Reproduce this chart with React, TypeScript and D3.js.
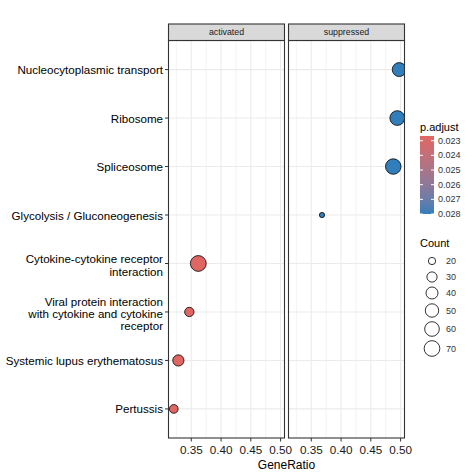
import React from "react";
import * as d3 from "d3";

const categories = [
  "Nucleocytoplasmic transport",
  "Ribosome",
  "Spliceosome",
  "Glycolysis / Gluconeogenesis",
  "Cytokine-cytokine receptor interaction",
  "Viral protein interaction with cytokine and cytokine receptor",
  "Systemic lupus erythematosus",
  "Pertussis",
];
const categoryLines: string[][] = [
  ["Nucleocytoplasmic transport"],
  ["Ribosome"],
  ["Spliceosome"],
  ["Glycolysis / Gluconeogenesis"],
  ["Cytokine-cytokine receptor", "interaction"],
  ["Viral protein interaction", "with cytokine and cytokine", "receptor"],
  ["Systemic lupus erythematosus"],
  ["Pertussis"],
];
const panels = ["activated", "suppressed"];

const pointGroup = ["suppressed", "suppressed", "suppressed", "suppressed", "activated", "activated", "activated", "activated"];
const pointCategory = categories.slice();
const geneRatio = [0.4977, 0.4944, 0.4877, 0.368, 0.3618, 0.3467, 0.3283, 0.3206];
const counts = [54, 61, 68, 18, 71, 26, 35, 24];
const pAdjust = [0.0280, 0.0280, 0.0280, 0.0280, 0.02268, 0.02268, 0.02268, 0.02268];

const xMajor = [0.35, 0.4, 0.45, 0.5];
const xMinor = [0.325, 0.375, 0.425, 0.475];
const colorTicks = [0.023, 0.024, 0.025, 0.026, 0.027, 0.028];
const sizeBreaks = [20, 30, 40, 50, 60, 70];

const FONT = "'Liberation Sans', Arial, sans-serif";

export default function App() {
  const W = 474, H = 474;
  const panelW = 116;
  const gap = 4;
  const panelX0 = [168.5, 168.5 + panelW + gap];
  const top = 40.5, bottom = 438;
  const stripTop = 24;

  const gMin = d3.min(geneRatio)!, gMax = d3.max(geneRatio)!;
  const ex = (gMax - gMin) * 0.05;
  const x = d3.scaleLinear().domain([gMin - ex, gMax + ex]).range([0, panelW]);

  const step = (bottom - top) / (categories.length - 1 + 1.2);
  const y = d3.scalePoint<string>().domain(categories).range([top + 0.6 * step, bottom - 0.6 * step]);

  const cMin = d3.min(counts)!, cMax = d3.max(counts)!;
  const rOf = (c: number) => 3.0 + 5.3 * Math.sqrt(Math.max(0, (c - cMin) / (cMax - cMin)));

  const pMin = 0.02268, pMax = 0.0280;
  const col = d3.scaleLinear<string>().domain([pMin, pMax]).range(["#e06663", "#327eba"]).interpolate(d3.interpolateLab);

  const barTop = 136, barBot = 214, barX = 420, barW = 14;
  const cy = d3.scaleLinear().domain([pMin, pMax]).range([barTop, barBot]);
  const gradStops = d3.range(0, 1.0001, 0.1);

  const sizeY = [261, 277, 293, 310.5, 329, 348.5];

  return (
    <svg width={W} height={H} style={{ position: "absolute", left: 0, top: 0, background: "#fff" }} fontFamily={FONT}>
      <defs>
        <linearGradient id="cbar" x1="0" y1="0" x2="0" y2="1">
          {gradStops.map((t, i) => (
            <stop key={i} offset={t} stopColor={col(pMin + t * (pMax - pMin))} />
          ))}
        </linearGradient>
        {panels.map((p, i) => (
          <clipPath id={`clip-${p}`} key={p}>
            <rect x={panelX0[i]} y={top} width={panelW} height={bottom - top} />
          </clipPath>
        ))}
      </defs>
      <rect width={W} height={H} fill="#fff" />

      {panels.map((p, i) => {
        const x0 = panelX0[i];
        return (
          <g key={p}>
            <rect x={x0} y={top} width={panelW} height={bottom - top} fill="#fff" />
            {xMinor.map((v) => (
              <line key={"mi" + v} x1={x0 + x(v)} x2={x0 + x(v)} y1={top} y2={bottom} stroke="#EBEBEB" strokeWidth={0.6} />
            ))}
            {xMajor.map((v) => (
              <line key={"ma" + v} x1={x0 + x(v)} x2={x0 + x(v)} y1={top} y2={bottom} stroke="#EBEBEB" strokeWidth={1.1} />
            ))}
            {categories.map((c) => (
              <line key={c} x1={x0} x2={x0 + panelW} y1={y(c)!} y2={y(c)!} stroke="#EBEBEB" strokeWidth={1.1} />
            ))}
            <g clipPath={`url(#clip-${p})`}>
              {geneRatio.map((g, k) =>
                pointGroup[k] === p ? (
                  <circle
                    key={k}
                    cx={x0 + x(g)}
                    cy={y(pointCategory[k])!}
                    r={rOf(counts[k]) - 0.4}
                    fill={col(pAdjust[k])}
                    stroke="#000"
                    strokeWidth={0.8}
                  />
                ) : null
              )}
            </g>
            <rect x={x0} y={top} width={panelW} height={bottom - top} fill="none" stroke="#333333" strokeWidth={1.1} />
            <rect x={x0} y={stripTop} width={panelW} height={top - stripTop} fill="#D9D9D9" stroke="#333333" strokeWidth={1.1} />
            <text x={x0 + panelW / 2} y={(stripTop + top) / 2} textAnchor="middle" dominantBaseline="central" fontSize={8.8} fill="#1A1A1A">
              {p}
            </text>
            {xMajor.map((v) => (
              <g key={"t" + v}>
                <line x1={x0 + x(v)} x2={x0 + x(v)} y1={bottom} y2={bottom + 3.5} stroke="#333333" strokeWidth={1} />
                <text x={x0 + x(v)} y={bottom + 11.5} textAnchor="middle" dominantBaseline="central" fontSize={11.7} fill="#1a1a1a">
                  {d3.format(".2f")(v)}
                </text>
              </g>
            ))}
          </g>
        );
      })}

      {categories.map((c, i) => {
        const lines = categoryLines[i];
        const lh = 12.4;
        const yc = y(c)! + (lines.length > 1 ? 1.5 : 0);
        return (
          <g key={c}>
            <line x1={panelX0[0] - 3.5} x2={panelX0[0]} y1={y(c)!} y2={y(c)!} stroke="#333333" strokeWidth={1} />
            {lines.map((l, j) => (
              <text
                key={j}
                x={panelX0[0] - 5.5}
                y={yc + (j - (lines.length - 1) / 2) * lh}
                textAnchor="end"
                dominantBaseline="central"
                fontSize={11.6}
                fill="#000"
              >
                {l}
              </text>
            ))}
          </g>
        );
      })}

      <text x={(panelX0[0] + panelX0[1] + panelW) / 2} y={465} textAnchor="middle" dominantBaseline="central" fontSize={12} fill="#000">
        GeneRatio
      </text>

      <text x={420} y={127} dominantBaseline="central" fontSize={11} fill="#000">p.adjust</text>
      <rect x={barX} y={barTop} width={barW} height={barBot - barTop} fill="url(#cbar)" />
      {colorTicks.map((t) => (
        <g key={t}>
          <line x1={barX} x2={barX + 3} y1={cy(t)} y2={cy(t)} stroke="#fff" strokeWidth={1} />
          <line x1={barX + barW - 3} x2={barX + barW} y1={cy(t)} y2={cy(t)} stroke="#fff" strokeWidth={1} />
          <text x={barX + barW + 4} y={cy(t)} dominantBaseline="central" fontSize={9} fill="#333">
            {d3.format(".3f")(t)}
          </text>
        </g>
      ))}

      <text x={420} y={243} dominantBaseline="central" fontSize={11} fill="#000">Count</text>
      {sizeBreaks.map((s, i) => (
        <g key={s}>
          <circle cx={432} cy={sizeY[i]} r={rOf(s) - 0.4} fill="#fff" stroke="#000" strokeWidth={0.8} />
          <text x={446} y={sizeY[i]} dominantBaseline="central" fontSize={9} fill="#333">
            {s}
          </text>
        </g>
      ))}
    </svg>
  );
}
